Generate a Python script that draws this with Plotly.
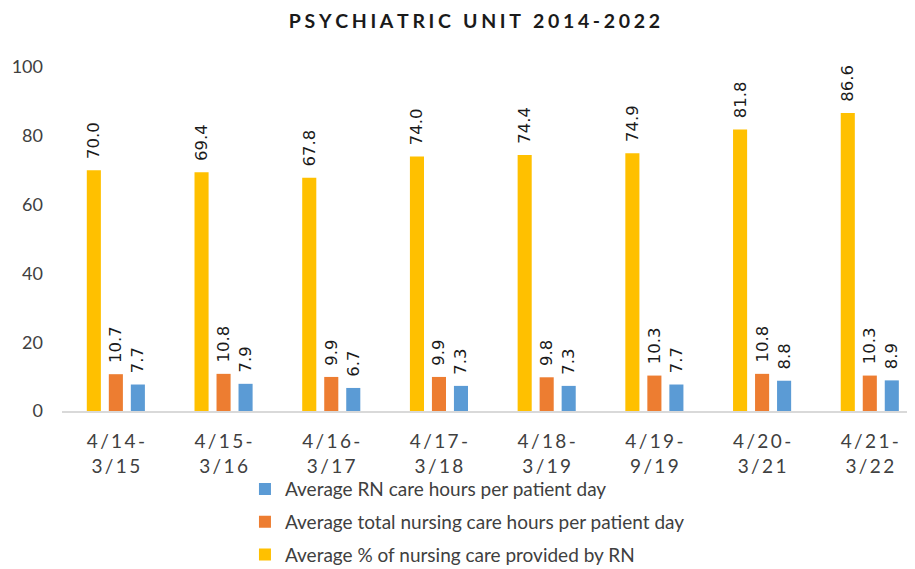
import plotly.graph_objects as go

categories = ["4/14-<br>3/15", "4/15-<br>3/16", "4/16-<br>3/17", "4/17-<br>3/18",
              "4/18-<br>3/19", "4/19-<br>9/19", "4/20-<br>3/21", "4/21-<br>3/22"]
pct_rn = [70.0, 69.4, 67.8, 74.0, 74.4, 74.9, 81.8, 86.6]
total_hours = [10.7, 10.8, 9.9, 9.9, 9.8, 10.3, 10.8, 10.3]
rn_hours = [7.7, 7.9, 6.7, 7.3, 7.3, 7.7, 8.8, 8.9]
y_ticks = [0, 20, 40, 60, 80, 100]
title_text = "PSYCHIATRIC UNIT 2014-2022"

def spaced(s, sep="\u2009"):
    return "<br>".join(sep.join(list(part)) for part in s.split("<br>"))

cat_labels = [spaced(c) for c in categories]
x = list(range(len(categories)))

series = [
    ("Average % of nursing care provided by RN", pct_rn, "#FFC000", 3),
    ("Average total nursing care hours per patient day", total_hours, "#ED7D31", 2),
    ("Average RN care hours per patient day", rn_hours, "#5B9BD5", 1),
]

fig = go.Figure()
for i, (name, vals, col, rank) in enumerate(series):
    fig.add_trace(go.Bar(
        x=x, y=vals, name=name, marker=dict(color=col, line=dict(width=0)),
        text=["\u2002" + f"{v:.1f}" for v in vals], textposition="outside", textangle=-90,
        constraintext="none", cliponaxis=False,
        textfont=dict(family="DejaVu Sans", size=16.5, color="#1a1a1a"),
        legendgroup=f"g{i}", legendrank=rank,
    ))

fig.update_layout(
    width=915, height=569,
    margin=dict(l=54, r=0, t=59, b=166),
    paper_bgcolor="white", plot_bgcolor="white",
    barmode="group", bargap=0.387, bargroupgap=0.36,
    title=dict(text="<b>" + spaced(title_text, "\u2009\u200a") + "</b>",
               x=0.479, xref="paper", xanchor="center",
               y=0.989, yref="container", yanchor="top", pad=dict(t=0, b=0),
               font=dict(family="Lato", size=19.5, color="#1a1a1a")),
    font=dict(family="Lato", color="#404040"),
    xaxis=dict(tickmode="array", tickvals=x, ticktext=cat_labels,
               range=[-0.5, 7.494], showline=True, linecolor="#D9D9D9", linewidth=2,
               ticks="", ticklabelstandoff=12,
               tickfont=dict(family="Lato", size=19, color="#404040"),
               showgrid=False, zeroline=False),
    yaxis=dict(range=[0, 100], tickvals=y_ticks, showgrid=False, zeroline=False,
               showline=False, ticks="", ticklabelstandoff=18,
               tickfont=dict(family="Lato", size=18, color="#404040")),
    legend=dict(orientation="v", traceorder="grouped", x=0.2125, xanchor="left",
                y=-0.172, yanchor="top", tracegroupgap=5,
                bgcolor="rgba(0,0,0,0)",
                font=dict(family="Lato", size=19, color="#404040"),
                itemwidth=30),
    showlegend=True,
)

fig.write_html("out.html")
